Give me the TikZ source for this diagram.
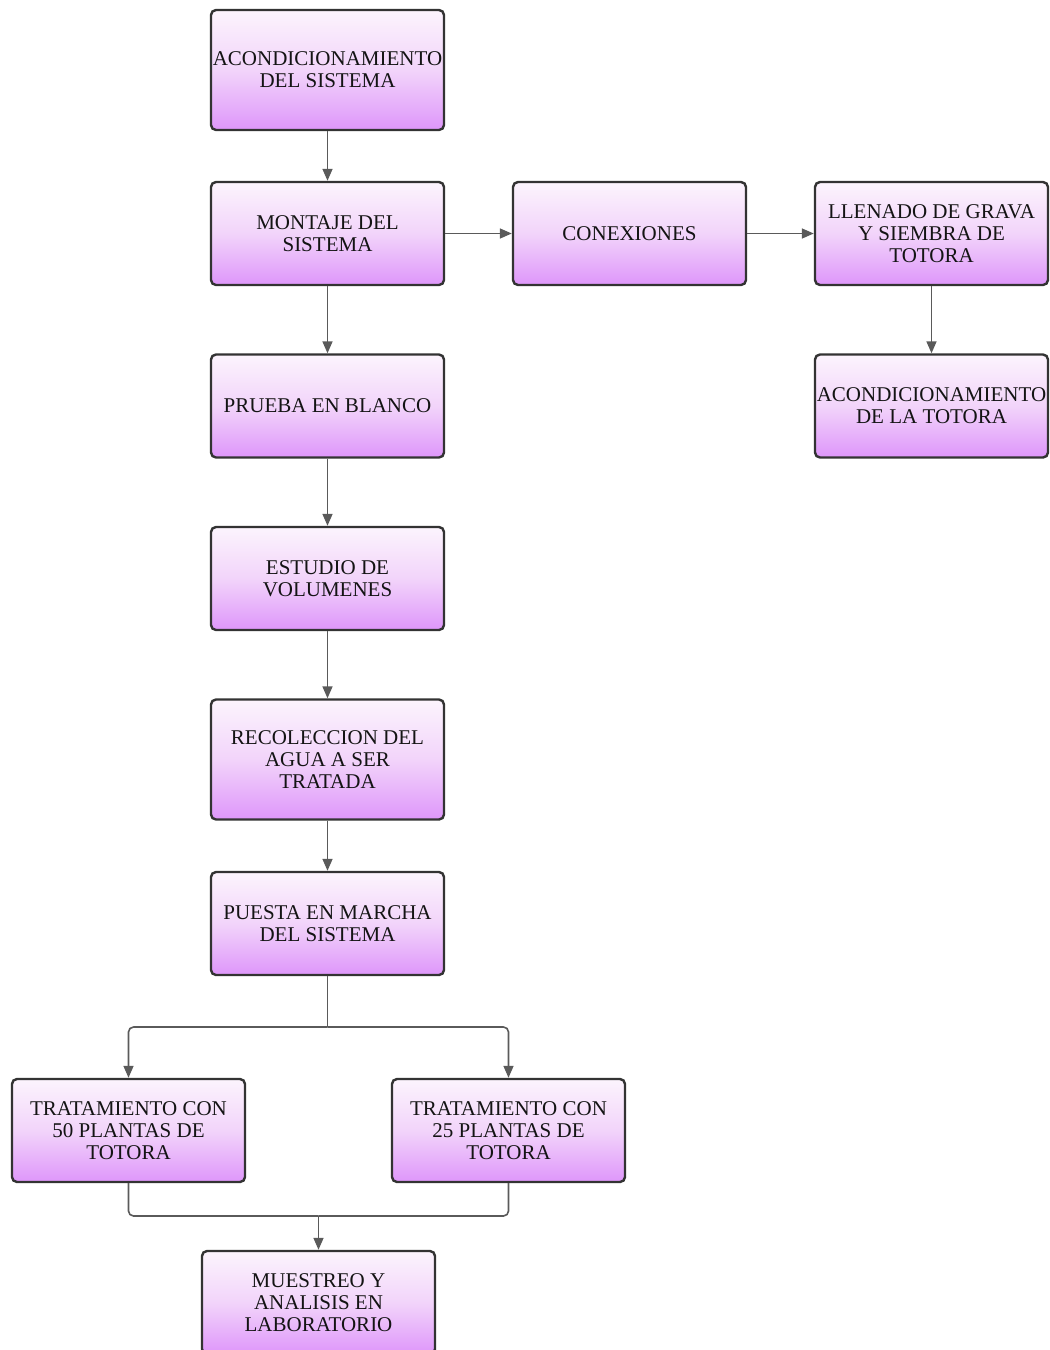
\documentclass[tikz,border=0pt]{standalone}
\usepackage{fontspec}
\setmainfont{Liberation Serif}
\usetikzlibrary{arrows.meta}
\definecolor{boxtop}{RGB}{252,244,253}
\definecolor{boxmid}{RGB}{242,212,250}
\definecolor{boxbot}{RGB}{222,150,250}
\definecolor{edgecol}{RGB}{51,51,51}
\definecolor{linecol}{RGB}{90,90,90}
\definecolor{txtcol}{RGB}{20,20,20}
\tikzset{
  box/.style={draw=edgecol, line width=2.4pt, rounded corners=5pt,
    top color=boxtop, bottom color=boxbot, middle color=boxmid,
    minimum width=233pt, inner sep=1pt, align=center, text=txtcol,
    font=\fontsize{21}{22}\selectfont},
  conn/.style={draw=linecol, line width=1.6pt, -{Triangle[length=12pt,width=10pt]}},
  plain/.style={draw=linecol, line width=1.6pt, rounded corners=5pt}
}
\begin{document}
\begin{tikzpicture}[x=1pt,y=-1pt]
\useasboundingbox (0,0) rectangle (1050,1350);
\clip (0,0) rectangle (1050,1350);
\node[box, minimum height=120pt] (a1) at (327.5,70) {ACONDICIONAMIENTO\\DEL SISTEMA};
\node[box, minimum height=103pt] (mont) at (327.5,233.5) {MONTAJE DEL\\SISTEMA};
\node[box, minimum height=103pt] (conx) at (629.5,233.5) {CONEXIONES};
\node[box, minimum height=103pt] (llen) at (931.5,233.5) {LLENADO DE GRAVA\\Y SIEMBRA DE\\TOTORA};
\node[box, minimum height=103pt] (acto) at (931.5,406) {ACONDICIONAMIENTO\\DE LA TOTORA};
\node[box, minimum height=103pt] (prue) at (327.5,406) {PRUEBA EN BLANCO};
\node[box, minimum height=103pt] (estu) at (327.5,578.5) {ESTUDIO DE\\VOLUMENES};
\node[box, minimum height=120pt] (reco) at (327.5,759.5) {RECOLECCION DEL\\AGUA A SER\\TRATADA};
\node[box, minimum height=103pt] (pues) at (327.5,923.5) {PUESTA EN MARCHA\\DEL SISTEMA};
\node[box, minimum height=103pt] (t50) at (128.5,1130.5) {TRATAMIENTO CON\\50 PLANTAS DE\\TOTORA};
\node[box, minimum height=103pt] (t25) at (508.5,1130.5) {TRATAMIENTO CON\\25 PLANTAS DE\\TOTORA};
\node[box, minimum height=103pt] (mues) at (318.5,1302.5) {MUESTREO Y\\ANALISIS EN\\LABORATORIO};
\coordinate (split) at (327.5,1027);
\coordinate (merge) at (318.5,1216);
\draw[conn] (a1) -- (mont);
\draw[conn] (mont) -- (conx);
\draw[conn] (conx) -- (llen);
\draw[conn] (llen) -- (acto);
\draw[conn] (mont) -- (prue);
\draw[conn] (prue) -- (estu);
\draw[conn] (estu) -- (reco);
\draw[conn] (reco) -- (pues);
\draw[plain] (pues.south) -- (split);
\draw[plain, conn] (split) -| (t50.north);
\draw[plain, conn] (split) -| (t25.north);
\draw[plain] (t50.south) |- (merge);
\draw[plain] (t25.south) |- (merge);
\draw[conn] (merge) -- (mues.north);
\end{tikzpicture}
\end{document}
